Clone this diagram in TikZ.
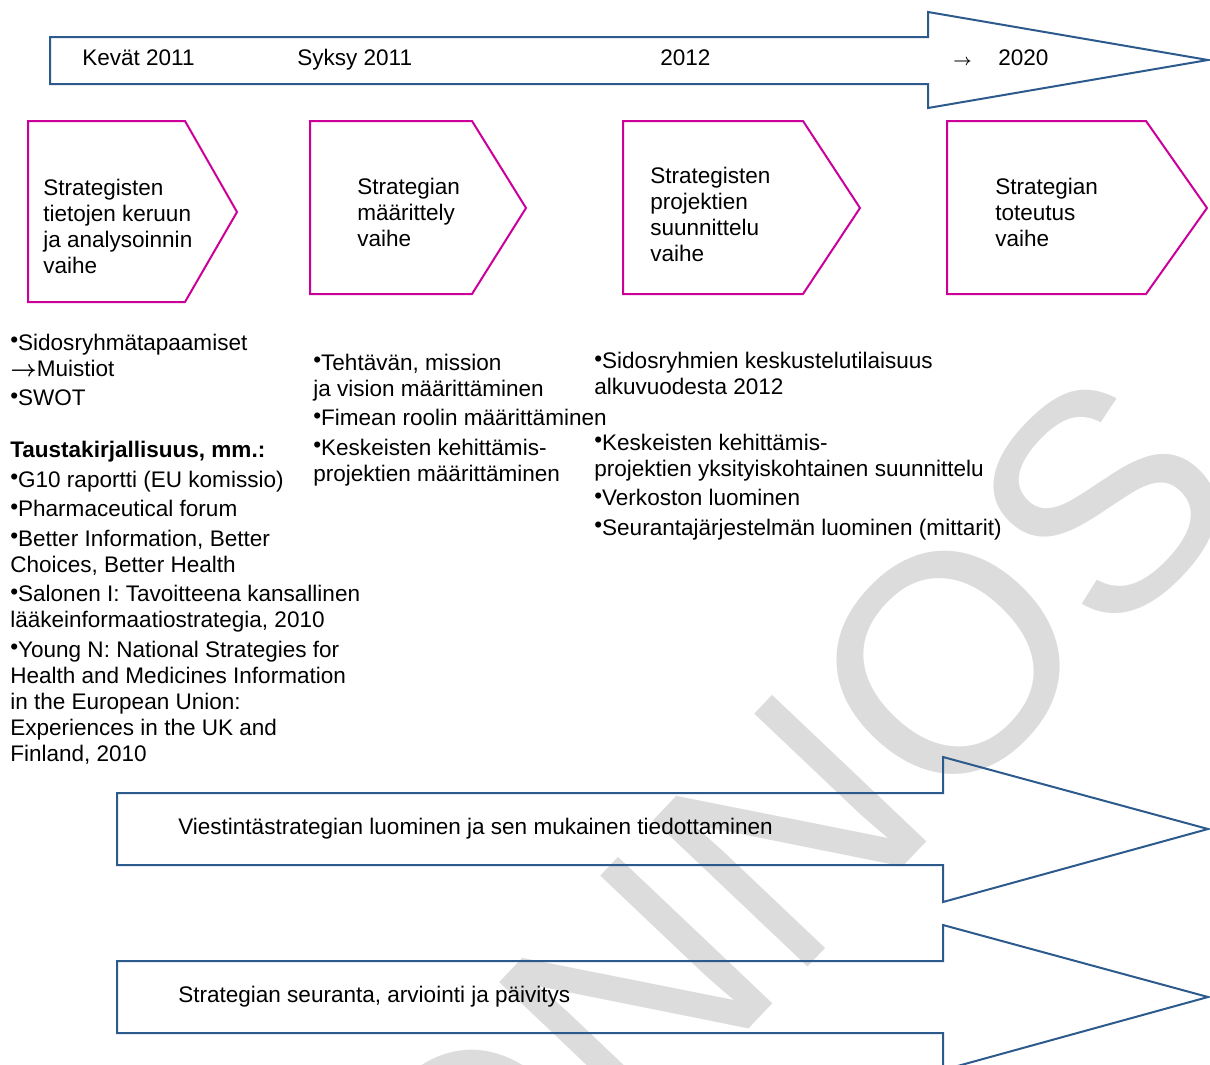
\documentclass[tikz,border=0pt]{standalone}
\usepackage{fontspec}
\setmainfont{Liberation Sans}
\usepackage{tikz}

\definecolor{nuolisin}{RGB}{44,90,140}
\definecolor{vaihepun}{RGB}{204,0,153}
\definecolor{leimaharm}{RGB}{220,220,220}

\newcommand{\pallo}{\raisebox{.1em}{•}}
\newcommand{\jatkuu}{{\boldmath$\rightarrow$}}

\begin{document}
\begin{tikzpicture}[x=0.75pt,y=0.75pt,yscale=-1,xscale=1,
  nuoli/.style={draw=nuolisin,line width=1.5pt,line join=miter},
  vaihe/.style={draw=vaihepun,line width=1.5pt,line join=miter},
  teksti/.style={anchor=base west,inner sep=0pt,align=left,font=\fontsize{16.9}{19.5}\selectfont},
  leima/.style={text=leimaharm,inner sep=0pt,rotate=46.5,font=\fontsize{232}{232}\selectfont}]
\useasboundingbox (0,0) rectangle (1210,1064);
%Watermark
\draw (648,981) node [leima] (luonnos) {LUONNOS};
%Shape: Top timeline arrow
\draw [nuoli] (50,37) -- (928,37) -- (928,12) -- (1208,60) -- (928,108) -- (928,84) -- (50,84) -- cycle ;
%Shape: Phase pentagons
\draw [vaihe] (28,121) -- (185,121) -- (237,212) -- (185,302) -- (28,302) -- cycle ;
\draw [vaihe] (310,121) -- (472,121) -- (526,208) -- (472,294) -- (310,294) -- cycle ;
\draw [vaihe] (623,121) -- (803,121) -- (860,208) -- (803,294) -- (623,294) -- cycle ;
\draw [vaihe] (947,121) -- (1146,121) -- (1207,208) -- (1146,294) -- (947,294) -- cycle ;
%Shape: Bottom arrows
\draw [nuoli] (117,793) -- (943,793) -- (943,757) -- (1208,829) -- (943,902) -- (943,865) -- (117,865) -- cycle ;
\draw [nuoli] (117,961) -- (943,961) -- (943,925) -- (1208,997) -- (943,1070) -- (943,1033) -- (117,1033) -- cycle ;
% Text Node
\draw (82,65) node [teksti] (kevat) {Kevät 2011};
% Text Node
\draw (297,65) node [teksti] (syksy) {Syksy 2011};
% Text Node
\draw (660,65) node [teksti] (vuosi) {2012};
% Text Node
\draw (953,65) node [teksti,font=\fontsize{13}{15}\selectfont] (jatko) {\jatkuu};
% Text Node
\draw (998,65) node [teksti] (tavoite) {2020};
% Text Node (anchored at last line)
\draw (43,273) node [teksti] (vaihea) {Strategisten\\tietojen keruun\\ja analysoinnin\\vaihe};
% Text Node
\draw (357,246) node [teksti] (vaiheb) {Strategian\\määrittely\\vaihe};
% Text Node
\draw (650,261) node [teksti] (vaihec) {Strategisten\\projektien\\suunnittelu\\vaihe};
% Text Node
\draw (995,246) node [teksti] (vaihed) {Strategian\\toteutus\\vaihe};
% Text Node
\draw (10,761) node [teksti] (lista) {\pallo Sidosryhmätapaamiset\\
\jatkuu Muistiot\\[2.6pt]
\pallo SWOT\\[19.5pt]
\textbf{Taustakirjallisuus, mm.:}\\[2.6pt]
\pallo G10 raportti (EU komissio)\\[2.6pt]
\pallo Pharmaceutical forum\\[2.6pt]
\pallo Better Information, Better\\
Choices, Better Health\\[2.6pt]
\pallo Salonen I: Tavoitteena kansallinen\\
lääkeinformaatiostrategia, 2010\\[2.6pt]
\pallo Young N: National Strategies for\\
Health and Medicines Information\\
in the European Union:\\
Experiences in the UK and\\
Finland, 2010};
% Text Node
\draw (313,481) node [teksti] (listb) {\pallo Tehtävän, mission\\
ja vision määrittäminen\\[2.6pt]
\pallo Fimean roolin määrittäminen\\[2.6pt]
\pallo Keskeisten kehittämis-\\
projektien määrittäminen};
% Text Node
\draw (594,535) node [teksti] (listc) {\pallo Sidosryhmien keskustelutilaisuus\\
alkuvuodesta 2012\\[22pt]
\pallo Keskeisten kehittämis-\\
projektien yksityiskohtainen suunnittelu\\[2.6pt]
\pallo Verkoston luominen\\[2.6pt]
\pallo Seurantajärjestelmän luominen (mittarit)};
% Text Node
\draw (178,834) node [teksti] (viestinta) {Viestintästrategian luominen ja sen mukainen tiedottaminen};
% Text Node
\draw (178,1002) node [teksti] (seuranta) {Strategian seuranta, arviointi ja päivitys};
\end{tikzpicture}
\end{document}
